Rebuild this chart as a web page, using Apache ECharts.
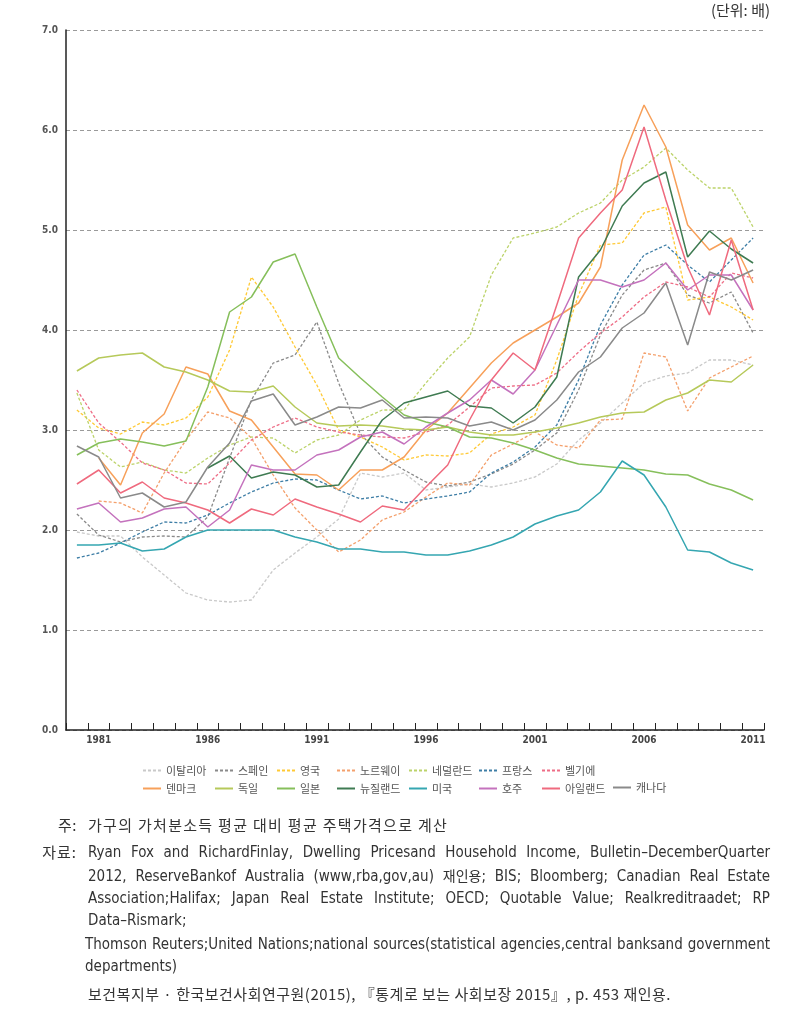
<!DOCTYPE html>
<html>
<head>
<meta charset="utf-8">
<script src="https://cdn.jsdelivr.net/npm/echarts@6/dist/echarts.min.js"></script>
<style>
  html, body { margin: 0; padding: 0; background: #fff; }
  #wrap { position: relative; width: 800px; height: 1013px; overflow: hidden; }
  #chart { position: absolute; left: 0; top: 0; width: 800px; height: 1013px; }
  .ln { position: absolute; font-family: "Liberation Sans Narrow", "DejaVu Sans Condensed", "Noto Sans CJK KR", sans-serif;
        font-size: 15px; color: #333; line-height: 20px; white-space: nowrap; }
  .jf { text-align: justify; text-align-last: justify; white-space: normal; }
  .kr { font-family: "Noto Sans CJK KR", sans-serif; font-size: 15px; letter-spacing: 0.5px; }
  .lab { text-align: right; width: 50px; }
  .k { font-family: "Noto Sans CJK KR", sans-serif; font-size: 14px; }
</style>
</head>
<body>
<div id="wrap">
  <div id="chart"></div>
  <div class="ln kr lab" style="left:27px; top:815px;">주:</div>
  <div class="ln kr" style="left:88px; top:815px; letter-spacing:1.3px;">가구의 가처분소득 평균 대비 평균 주택가격으로 계산</div>
  <div class="ln kr lab" style="left:27px; top:842px; letter-spacing:1px;">자료:</div>
  <div class="ln jf" style="left:88px; width:682px; top:842px;">Ryan Fox and RichardFinlay, Dwelling Pricesand Household Income, Bulletin–DecemberQuarter</div>
  <div class="ln jf" style="left:88px; width:682px; top:865px;">2012, ReserveBankof Australia (www,rba,gov,au) <span class="k">재인용</span>; BIS; Bloomberg; Canadian Real Estate</div>
  <div class="ln jf" style="left:88px; width:682px; top:888px;">Association;Halifax; Japan Real Estate Institute; OECD; Quotable Value; Realkreditraadet; RP</div>
  <div class="ln" style="left:88px; top:910px;">Data–Rismark;</div>
  <div class="ln jf" style="left:85px; width:685px; top:934px;">Thomson Reuters;United Nations;national sources(statistical agencies,central banksand government</div>
  <div class="ln" style="left:85px; top:956px;">departments)</div>
  <div class="ln kr" style="left:88px; top:984px;">보건복지부 · 한국보건사회연구원(2015), 『통계로 보는 사회보장 2015』, p. 453 재인용.</div>
</div>
<script>
// ---- data ----
var years = ['1980','1981','1982','1983','1984','1985','1986','1987','1988','1989','1990',
             '1991','1992','1993','1994','1995','1996','1997','1998','1999','2000',
             '2001','2002','2003','2004','2005','2006','2007','2008','2009','2010','2011'];

var italy       = [1.98,1.94,1.94,1.73,1.55,1.37,1.30,1.28,1.30,1.60,1.77,1.93,2.11,2.57,2.53,2.57,2.40,2.43,2.46,2.43,2.47,2.53,2.66,2.90,3.07,3.27,3.47,3.54,3.57,3.70,3.70,3.65];
var spain       = [2.16,1.95,1.88,1.93,1.94,1.93,2.13,2.72,3.30,3.67,3.75,4.08,3.47,2.96,2.73,2.60,2.48,2.44,2.48,2.56,2.66,2.80,2.97,3.40,3.95,4.35,4.60,4.67,4.35,4.27,4.38,3.97];
var uk          = [3.20,3.02,2.96,3.08,3.05,3.12,3.33,3.80,4.53,4.23,3.83,3.45,3.00,2.93,2.83,2.70,2.75,2.74,2.77,2.96,3.03,3.15,3.70,4.35,4.85,4.87,5.17,5.23,4.30,4.33,4.23,4.10];
var norway      = [null,2.29,2.27,2.17,2.57,2.90,3.18,3.12,2.92,2.55,2.22,2.00,1.78,1.90,2.10,2.18,2.33,2.47,2.45,2.75,2.86,2.98,2.85,2.82,3.10,3.11,3.77,3.73,3.19,3.52,3.63,3.74];
var netherlands = [3.37,2.80,2.63,2.68,2.60,2.57,2.72,2.85,2.93,2.92,2.77,2.90,2.95,3.10,3.20,3.20,3.47,3.72,3.93,4.55,4.92,4.97,5.03,5.17,5.27,5.50,5.63,5.82,5.60,5.42,5.42,5.03];
var france      = [1.72,1.77,1.87,1.98,2.08,2.07,2.15,2.27,2.38,2.47,2.51,2.50,2.40,2.31,2.34,2.27,2.31,2.34,2.38,2.57,2.68,2.83,3.05,3.50,4.05,4.45,4.75,4.85,4.65,4.48,4.70,4.92];
var belgium     = [3.40,3.07,2.88,2.67,2.60,2.47,2.46,2.67,2.90,3.03,3.12,3.03,2.98,2.95,2.93,2.92,2.98,3.05,3.23,3.42,3.44,3.45,3.57,3.78,3.97,4.13,4.33,4.48,4.43,4.33,4.57,4.52];
var denmark     = [null,2.72,2.45,2.97,3.16,3.63,3.56,3.19,3.10,2.83,2.56,2.55,2.40,2.60,2.60,2.73,3.00,3.17,3.42,3.67,3.87,4.00,4.13,4.27,4.63,5.70,6.25,5.83,5.05,4.80,4.92,4.47];
var germany     = [3.59,3.72,3.75,3.77,3.63,3.58,3.50,3.39,3.38,3.44,3.23,3.07,3.04,3.05,3.04,3.01,3.00,3.03,2.98,2.95,2.95,2.98,3.02,3.07,3.13,3.17,3.18,3.30,3.37,3.50,3.48,3.65];
var japan       = [2.75,2.87,2.91,2.88,2.84,2.89,3.43,4.18,4.33,4.68,4.76,4.23,3.72,3.52,3.33,3.15,3.08,3.03,2.93,2.92,2.87,2.80,2.72,2.66,2.64,2.62,2.60,2.56,2.55,2.46,2.40,2.30];
var newzealand  = [null,null,null,null,null,null,2.62,2.74,2.52,2.58,2.55,2.43,2.45,2.78,3.10,3.27,3.33,3.39,3.24,3.22,3.07,3.23,3.53,4.53,4.80,5.24,5.47,5.58,4.73,4.99,4.81,4.67];
var usa         = [1.85,1.85,1.87,1.79,1.81,1.93,2.00,2.00,2.00,2.00,1.93,1.88,1.81,1.81,1.78,1.78,1.75,1.75,1.79,1.85,1.93,2.06,2.14,2.20,2.38,2.69,2.55,2.23,1.80,1.78,1.67,1.60];
var australia   = [2.21,2.27,2.08,2.12,2.21,2.23,2.03,2.20,2.65,2.60,2.60,2.75,2.80,2.93,2.98,2.86,3.03,3.17,3.30,3.50,3.36,3.60,4.05,4.50,4.50,4.43,4.50,4.67,4.40,4.55,4.55,4.20];
var ireland     = [2.46,2.60,2.37,2.48,2.32,2.27,2.20,2.07,2.21,2.15,2.31,2.23,2.16,2.08,2.24,2.20,2.43,2.65,3.10,3.50,3.77,3.60,4.25,4.92,5.17,5.40,6.03,5.30,4.63,4.15,4.90,4.20];
var canada      = [2.84,2.73,2.32,2.37,2.23,2.28,2.63,2.87,3.29,3.36,3.05,3.13,3.23,3.22,3.30,3.12,3.13,3.12,3.04,3.08,3.00,3.10,3.30,3.58,3.73,4.02,4.17,4.47,3.85,4.58,4.50,4.60];

var yTicks = ['0.0','1.0','2.0','3.0','4.0','5.0','6.0','7.0'];

// ---- series definitions (name, data, colour, dotted) ----
var defs = [
  ['이탈리아', italy,       '#c9c9c9', true],
  ['스페인',   spain,       '#8a8a8a', true],
  ['영국',     uk,          '#ffc934', true],
  ['노르웨이', norway,      '#f4a06c', true],
  ['네덜란드', netherlands, '#bcd36a', true],
  ['프랑스',   france,      '#3e7ea6', true],
  ['벨기에',   belgium,     '#ee6d86', true],
  ['덴마크',   denmark,     '#f7a05a', false],
  ['독일',     germany,     '#b6c95a', false],
  ['일본',     japan,       '#86bf5b', false],
  ['뉴질랜드', newzealand,  '#3f7b52', false],
  ['미국',     usa,         '#35a6b1', false],
  ['호주',     australia,   '#c472bd', false],
  ['아일랜드', ireland,     '#ef6a7e', false],
  ['캐나다',   canada,      '#8a8a8a', false]
];

var series = defs.map(function (d) {
  return {
    name: d[0], type: 'line', data: d[1], symbol: 'none', connectNulls: false,
    itemStyle: { color: d[2] },
    lineStyle: { color: d[2], width: d[3] ? 1.3 : 1.5, type: d[3] ? [3, 2] : 'solid' },
    emphasis: { disabled: true }
  };
});

// legend: column layout (two rows)
var colX = [137, 209, 271, 331, 403, 473, 536, 607];
var cols = [['이탈리아','덴마크'],['스페인','독일'],['영국','일본'],['노르웨이','뉴질랜드'],
            ['네덜란드','미국'],['프랑스','호주'],['벨기에','아일랜드'],['캐나다']];
var legends = cols.map(function (c, i) {
  return {
    orient: 'vertical', left: colX[i], top: (i === 7 ? 760 + 17 : 760), itemGap: 7,
    itemWidth: 18, itemHeight: 10,
    data: c, selectedMode: false,
    itemStyle: { opacity: 0 },
    textStyle: { fontFamily: 'Noto Sans CJK KR', fontSize: 11, color: '#555' }
  };
});

var chart = echarts.init(document.getElementById('chart'), null, { renderer: 'canvas' });
chart.setOption({
  animation: false,
  backgroundColor: '#fff',
  grid: { left: 66, right: 36, top: 30, bottom: 283, containLabel: false },
  legend: legends,
  graphic: [{
    type: 'text', right: 30, top: 3,
    style: { text: '(단위: 배)', font: '15px "Noto Sans CJK KR"', fill: '#333' }
  }],
  xAxis: {
    type: 'category', data: years, boundaryGap: true,
    axisLine: { lineStyle: { color: '#222', width: 1.5 } },
    axisTick: { show: true, inside: true, length: 7, interval: 0, lineStyle: { color: '#222' } },
    axisLabel: {
      interval: function (i) { return (i - 1) % 5 === 0; },
      margin: 5, fontSize: 10, fontWeight: 'bold', color: '#444',
      fontFamily: '"Liberation Sans Narrow", "DejaVu Sans Condensed", sans-serif'
    },
    splitLine: { show: false }
  },
  yAxis: {
    type: 'value', min: 0, max: 7, interval: 1,
    axisLine: { show: true, lineStyle: { color: '#222', width: 1.5 } },
    axisTick: { show: false },
    axisLabel: {
      formatter: function (v) { return yTicks[Math.round(v)]; },
      margin: 8, fontSize: 10, fontWeight: 'bold', color: '#555',
      fontFamily: '"Liberation Sans Narrow", "DejaVu Sans Condensed", sans-serif'
    },
    splitLine: { show: true, lineStyle: { color: '#9a9a9a', width: 1, type: [4, 3] } }
  },
  series: series
});
</script>
</body>
</html>
